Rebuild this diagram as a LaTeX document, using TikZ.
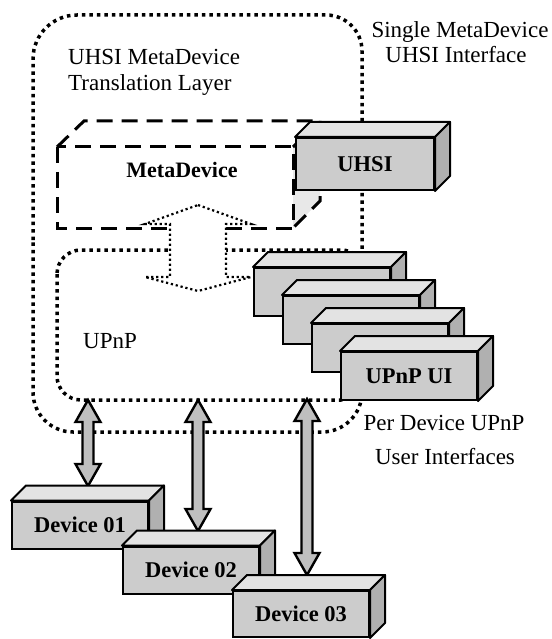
\documentclass[tikz,border=0pt]{standalone}
\usepackage{fontspec}
\setmainfont{Liberation Serif}
\usetikzlibrary{calc}
\tikzset{
  bigdots/.style={line width=3.5pt, dash pattern=on 3.5pt off 4pt},
  smalldots/.style={line width=2.2pt, dash pattern=on 2.2pt off 2.8pt},
  mdash/.style={line width=3pt, dash pattern=on 16pt off 9pt},
  face/.style={draw, line width=2pt, fill=gray!40, minimum width=136pt, minimum height=48pt,
    inner sep=0pt, font=\fontsize{22.5}{24}\selectfont\bfseries},
  topface/.style={draw, line width=2pt, fill=gray!22, line join=round},
  sideface/.style={draw, line width=2pt, fill=gray!62, line join=round},
  blockarrow/.style={draw, line width=2.4pt, fill=gray!50, line join=miter},
  txt/.style={font=\fontsize{23}{25}\selectfont, inner sep=0pt, anchor=base},
  btxt/.style={font=\fontsize{22}{24}\selectfont\bfseries, inner sep=0pt, anchor=base},
}
\newcommand{\cubeblk}[4][]{%
  \node[face,#1] (#2) at (#3) {#4};
  \draw[topface] (#2.north west) -- ++(15,-15) -- ($(#2.north east)+(15,-15)$) -- (#2.north east) -- cycle;
  \draw[sideface] (#2.north east) -- ++(15,-15) -- ($(#2.south east)+(15,-15)$) -- (#2.south east) -- cycle;
}
\newcommand{\blockarr}[2]{%
  \draw[blockarrow] let \p1=(#1), \p2=(#2) in
   (\p1) -- (\x1+12.5pt,\y1-22pt) -- (\x1+5.5pt,\y1-22pt) -- (\x2+5.5pt,\y2+22pt)
   -- (\x2+12.5pt,\y2+22pt) -- (\p2) -- (\x2-12.5pt,\y2+22pt) -- (\x2-5.5pt,\y2+22pt)
   -- (\x1-5.5pt,\y1-22pt) -- (\x1-12.5pt,\y1-22pt) -- cycle;
}
\begin{document}
\begin{tikzpicture}[x=1pt,y=-1pt]
\useasboundingbox (0,0) rectangle (551,639);

% outer translation layer
\draw[bigdots] (33,240) [rounded corners=44pt] -- (33,15) [rounded corners=36pt] -- (362,15)
  [rounded corners=40pt] -- (362,432) -- (33,432) [rounded corners=0pt] -- cycle;
% inner UPnP region
\draw[bigdots, rounded corners=24pt] (57,250) rectangle (365,400);

% MetaDevice dashed box
\fill[gray!18] (293,147) -- (320,120) -- (320,201) -- (293,228) -- cycle;
\draw[mdash] (57,147) rectangle (293,228);
\draw[mdash] (57,147) -- (84,121) -- (320,121) -- (293,147);
\draw[mdash] (320,121) -- (320,201) -- (293,228);

% hollow double arrow between MetaDevice and UPnP
\coordinate (hTop) at (198,205);
\coordinate (hBot) at (198,291);
\draw[smalldots, fill=white] let \p1=(hTop), \p2=(hBot) in
  (\p1) -- (\x1+53pt,\y1-19pt) -- (\x1+28pt,\y1-19pt) -- (\x2+28pt,\y2+14pt)
  -- (\x2+53pt,\y2+14pt) -- (\p2) -- (\x2-53pt,\y2+14pt) -- (\x2-28pt,\y2+14pt)
  -- (\x1-28pt,\y1-19pt) -- (\x1-53pt,\y1-19pt) -- cycle;

% UHSI box
\cubeblk[minimum width=138pt, minimum height=52pt]{uhsi}{365,164}{UHSI}

% per-device UPnP UI boxes
\cubeblk{ui1}{322,292}{}
\cubeblk{ui2}{351,320}{}
\cubeblk{ui3}{380,348}{}
\cubeblk{ui4}{409,376}{UPnP UI}

% block arrows to devices
\coordinate (a1t) at (88,400);  \coordinate (a1b) at (88,486);
\coordinate (a2t) at (198,400); \coordinate (a2b) at (198,531);
\coordinate (a3t) at (307,399); \coordinate (a3b) at (307,575);
\blockarr{a1t}{a1b}
\blockarr{a2t}{a2b}
\blockarr{a3t}{a3b}

% devices
\cubeblk[minimum height=47pt]{dev1}{80,525}{Device 01}
\cubeblk[minimum height=47pt]{dev2}{191,570}{Device 02}
\cubeblk[minimum height=46pt]{dev3}{301,614}{Device 03}

% texts
\node[txt, anchor=base west] (tl1) at (68,65) {UHSI MetaDevice};
\node[txt, anchor=base west] (tl2) at (68,91) {Translation Layer};
\node[txt] (sm1) at (460,38) {Single MetaDevice};
\node[txt] (sm2) at (456,63) {UHSI Interface};
\node[btxt] (md) at (182,177) {MetaDevice};
\node[txt, anchor=base west] (upnp) at (83,348) {UPnP};
\node[txt] (pd1) at (444,430) {Per Device UPnP};
\node[txt] (pd2) at (445,464) {User Interfaces};
\end{tikzpicture}
\end{document}
